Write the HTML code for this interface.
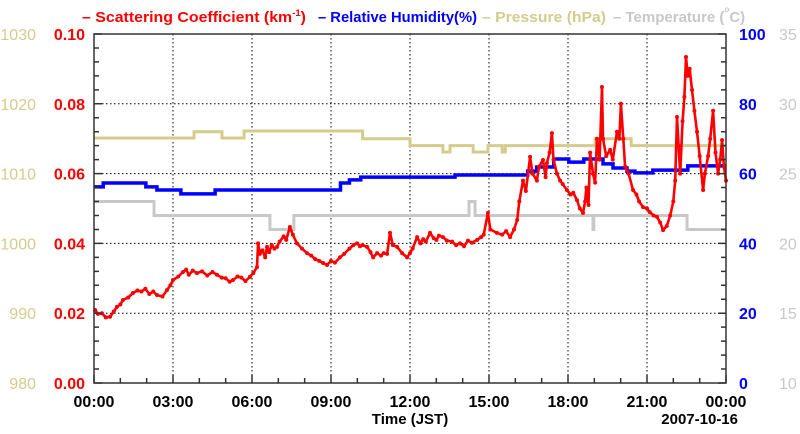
<!DOCTYPE html>
<html><head><meta charset="utf-8">
<style>
html,body{margin:0;padding:0;background:#fff;}
svg{display:block;font-family:"Liberation Sans",sans-serif;}
</style></head>
<body>
<svg id="chart" width="800" height="434" viewBox="0 0 800 434" xmlns="http://www.w3.org/2000/svg">
  <g font-size="15" font-weight="bold">
    <text x="82" y="22" fill="#ff0000" textLength="224" lengthAdjust="spacingAndGlyphs">– Scattering Coefficient (km<tspan font-size="9" dy="-6">-1</tspan><tspan dy="6">)</tspan></text>
    <text x="318" y="22" fill="#0000ff" textLength="159" lengthAdjust="spacingAndGlyphs">– Relative Humidity(%)</text>
    <text x="482" y="22" fill="#d4cc8c" textLength="124" lengthAdjust="spacingAndGlyphs">– Pressure (hPa)</text>
    <text x="613" y="22" fill="#c8c8c8">– Temperature (<tspan font-size="8" dy="-10">o</tspan><tspan dy="10">C)</tspan></text>
  </g>
  <g id="grid"></g>
  <g id="series"></g>
  <g id="axes"></g>
  <text x="410" y="424" font-size="15" font-weight="bold" text-anchor="middle">Time (JST)</text>
  <text x="738" y="424" font-size="15" font-weight="bold" text-anchor="end">2007-10-16</text>
</svg>
<script>
// ---- data ----
const xTickLabels = ["00:00","03:00","06:00","09:00","12:00","15:00","18:00","21:00","00:00"];
const scatTicks = ["0.00","0.02","0.04","0.06","0.08","0.10"];
const rhTicks = ["0","20","40","60","80","100"];
const presTicks = ["980","990","1000","1010","1020","1030"];
const tempTicks = ["10","15","20","25","30","35"];

const scatHours = [0.04,0.15,0.3,0.45,0.61,0.75,0.87,1.0,1.10,1.3,1.48,1.65,1.8,1.95,2.1,2.25,2.39,2.6,2.77,2.9,3.0,3.2,3.38,3.5,3.6,3.75,3.91,4.1,4.3,4.5,4.67,4.85,5.0,5.15,5.28,5.45,5.6,5.75,5.92,6.05,6.19,6.23,6.3,6.4,6.5,6.57,6.65,6.75,6.85,6.95,7.05,7.2,7.3,7.44,7.55,7.71,7.9,8.09,8.25,8.4,8.55,8.70,8.85,9.0,9.15,9.34,9.5,9.7,9.85,9.99,10.1,10.2,10.37,10.5,10.6,10.75,10.9,11.0,11.13,11.24,11.35,11.51,11.7,11.89,12.0,12.1,12.27,12.4,12.5,12.6,12.76,12.9,13.0,13.1,13.25,13.4,13.6,13.75,13.9,14.05,14.2,14.35,14.55,14.7,14.8,14.96,15.05,15.3,15.5,15.65,15.8,15.95,16.07,16.15,16.29,16.4,16.56,16.65,16.82,16.9,17.05,17.15,17.2,17.3,17.39,17.45,17.58,17.7,17.8,17.96,18.1,18.2,18.34,18.45,18.57,18.65,18.7,18.78,18.84,18.95,19.03,19.1,19.2,19.29,19.33,19.45,19.6,19.7,19.86,19.95,20.01,20.1,20.17,20.3,20.47,20.6,20.7,20.85,21.0,21.1,21.25,21.38,21.5,21.61,21.75,21.88,22.0,22.07,22.14,22.2,22.26,22.35,22.42,22.48,22.55,22.62,22.71,22.8,22.9,23.0,23.13,23.2,23.32,23.4,23.51,23.6,23.7,23.78,23.85,23.92,24.0];
const scatValues = [0.0209,0.0198,0.0200,0.0188,0.0190,0.0205,0.0218,0.0225,0.0238,0.0245,0.0258,0.0265,0.0262,0.0270,0.0255,0.0262,0.0252,0.0248,0.0266,0.0280,0.0295,0.0305,0.0318,0.0325,0.0310,0.0322,0.0315,0.0320,0.0308,0.0318,0.0310,0.0302,0.0300,0.0290,0.0295,0.0305,0.0302,0.0292,0.0304,0.0315,0.0332,0.0400,0.0370,0.0380,0.0360,0.0390,0.0375,0.0395,0.0385,0.0390,0.0405,0.0420,0.0410,0.0447,0.0425,0.0400,0.0385,0.0372,0.0365,0.0355,0.0350,0.0344,0.0338,0.0350,0.0345,0.0360,0.0370,0.0385,0.0395,0.0400,0.0392,0.0395,0.0390,0.0375,0.0360,0.0372,0.0365,0.0372,0.0370,0.0430,0.0395,0.0390,0.0372,0.0360,0.0372,0.0385,0.0418,0.0400,0.0412,0.0405,0.0430,0.0415,0.0410,0.0422,0.0418,0.0408,0.0405,0.0395,0.0400,0.0392,0.0408,0.0402,0.0410,0.0418,0.0425,0.0487,0.0440,0.0430,0.0425,0.0435,0.0418,0.0440,0.0467,0.0520,0.0580,0.0550,0.0648,0.0600,0.0580,0.0620,0.0639,0.0590,0.0630,0.0660,0.0716,0.0640,0.0600,0.0580,0.0570,0.0553,0.0540,0.0545,0.0524,0.0500,0.0487,0.0520,0.0560,0.0510,0.0660,0.0600,0.0574,0.0700,0.0640,0.0848,0.0700,0.0650,0.0668,0.0640,0.0720,0.0700,0.0800,0.0700,0.0620,0.0600,0.0553,0.0540,0.0520,0.0504,0.0500,0.0490,0.0480,0.0476,0.0460,0.0438,0.0450,0.0480,0.0520,0.0580,0.0762,0.0680,0.0600,0.0750,0.0820,0.0934,0.0880,0.0900,0.0840,0.0780,0.0720,0.0650,0.0553,0.0600,0.0650,0.0700,0.0780,0.0660,0.0600,0.0640,0.0696,0.0620,0.0580];

const rhHours = [0,0.35,1.97,2.39,3.3,4.6,9.36,9.7,10.13,10.74,12.3,13.71,16.47,16.81,17.46,18.03,18.60,19.33,19.71,20.24,20.54,21.22,22.55,24];
const rhValues = [56.2,57.3,56.2,55.3,54.2,55.3,57.3,58.2,59.0,59.0,59.0,59.6,60.7,61.9,64.2,63.3,64.2,62.8,61.6,60.7,60.2,61.0,62.2,62.2];

const presHours = [0,3.8,4.86,5.7,10.2,12.0,13.25,13.52,14.4,14.96,15.5,15.62,19.03,20.4,24];
const presValues = [1015.1,1016.0,1015.1,1016.1,1015.0,1014.0,1013.1,1014.0,1013.1,1014.0,1013.1,1014.0,1015.0,1014.0,1014.0];

const tempHours = [0,2.28,6.68,7.59,14.24,14.47,15.0,18.95,18.98,22.52,24];
const tempValues = [23.0,22.0,21.0,22.0,23.0,22.0,22.0,21.0,22.0,21.0,21.0];

// ---- geometry ----
const L=94,R=726,T=34,B=383;
const NS="http://www.w3.org/2000/svg";
function xs(h){return L+(R-L)*h/24;}
function yScat(v){return B-(B-T)*v/0.1;}
function yRH(v){return B-(B-T)*v/100;}
function yPres(v){return B-(B-T)*(v-980)/50;}
function yTemp(v){return B-(B-T)*(v-10)/25;}
function mk(tag,attrs,parent){const e=document.createElementNS(NS,tag);for(const k in attrs)e.setAttribute(k,attrs[k]);parent.appendChild(e);return e;}
const grid=document.getElementById('grid'),series=document.getElementById('series'),axes=document.getElementById('axes');

for(let i=1;i<8;i++){const x=xs(i*3);
 const g=mk('line',{x1:x,x2:x,y1:T,y2:B,stroke:'#000','stroke-width':1,'stroke-dasharray':'1.5,2.5'},grid);
 
 }
for(let i=1;i<5;i++){const y=yScat(i*0.02);
 const g=mk('line',{x1:L,x2:R,y1:y,y2:y,stroke:'#000','stroke-width':1,'stroke-dasharray':'1.5,2.5'},grid);
 
 }

function stepPath(hs,vs,yf){let d='';for(let i=0;i<hs.length;i++){const x=xs(hs[i]),y=yf(vs[i]);
 if(i===0)d+='M'+x+','+y;else d+='H'+x+'V'+y;}
 d+='H'+xs(24);return d;}
const tp=mk('path',{d:stepPath(tempHours,tempValues,yTemp),fill:'none',stroke:'#c8c8c8','stroke-width':3},series);


const pp=mk('path',{d:stepPath(presHours,presValues,yPres),fill:'none',stroke:'#d4cc8c','stroke-width':3},series);


const rp=mk('path',{d:stepPath(rhHours,rhValues,yRH),fill:'none',stroke:'#0000ff','stroke-width':3.5},series);



let d='';
for(let i=0;i<scatHours.length;i++){d+=(i?'L':'M')+xs(scatHours[i]).toFixed(1)+','+yScat(scatValues[i]).toFixed(1);}
const sp=mk('path',{d:d,fill:'none',stroke:'#ff0000','stroke-width':2.6,'stroke-linejoin':'round'},series);


for(let i=0;i<scatHours.length;i++){
 const c=mk('circle',{cx:xs(scatHours[i]),cy:yScat(scatValues[i]),r:2,fill:'#ff0000'},series);
 
 }

const fr=mk('rect',{x:L,y:T,width:R-L,height:B-T,fill:'none',stroke:'#333','stroke-width':1.5},axes);


let tk='';
for(let i=0;i<=24;i++){const x=xs(i),len=(i%3===0)?8:5;tk+='M'+x+','+B+'v'+(-len);}
for(let i=0;i<=25;i++){const y=B-(B-T)*i/25,len=(i%5===0)?8:5;tk+='M'+L+','+y+'h'+len+'M'+R+','+y+'h'+(-len);}
const tks=mk('path',{d:tk,stroke:'#333','stroke-width':1.5,fill:'none'},axes);



function label(txt,x,y,anchor,fill,bold,name){const t=mk('text',{x:x,y:y,'text-anchor':anchor,fill:fill,'font-size':16,'font-weight':bold?'bold':'normal'},axes);t.textContent=txt;
 
 }
for(let i=0;i<xTickLabels.length;i++)label(xTickLabels[i],xs(i*3),407,'middle','#000',true,'x-tick-label');
for(let i=0;i<6;i++){
 const y=yScat(i*0.02)+6;
 label(scatTicks[i],85,y,'end','#ff0000',true,'scattering-tick-label');
 label(presTicks[i],36,y,'end','#d4cc8c',false,'pressure-tick-label');
 label(rhTicks[i],739,y,'start','#0000ff',true,'humidity-tick-label');
 label(tempTicks[i],779,y,'start','#c8c8c8',false,'temperature-tick-label');
}
</script>
</body></html>
